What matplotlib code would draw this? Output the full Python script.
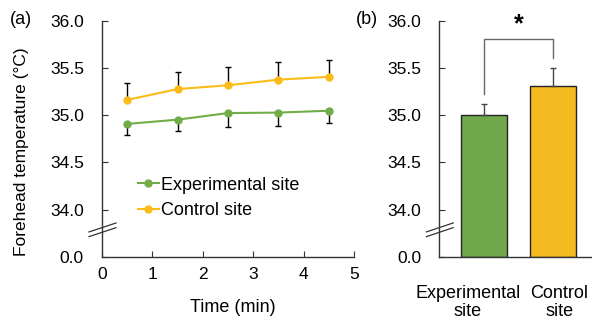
import matplotlib.pyplot as plt
from matplotlib.lines import Line2D
from matplotlib.transforms import blended_transform_factory

plt.rcParams['font.family'] = ['Liberation Sans', 'DejaVu Sans']

# time course data (left panel)
time = [0.5, 1.5, 2.5, 3.5, 4.5]
exp_mean = [34.91, 34.955, 35.025, 35.03, 35.05]
exp_sd = [0.12, 0.12, 0.145, 0.14, 0.13]
ctrl_mean = [35.165, 35.28, 35.32, 35.38, 35.41]
ctrl_sd = [0.18, 0.186, 0.19, 0.19, 0.18]

# averages (right panel)
sites = ['Experimental\nsite', 'Control\nsite']
site_mean = [35.0, 35.315]
site_sd = [0.125, 0.19]

# y axis is broken: the lowest slot shows 0.0
ybase = 33.5
yticks = [33.5, 34.0, 34.5, 35.0, 35.5, 36.0]
ylabels = ['0.0', '34.0', '34.5', '35.0', '35.5', '36.0']

green = '#70AD47'
gold = '#FBBC1A'
fs_tick = 12.5
fs = 13

fig = plt.figure(figsize=(5.92, 3.2), dpi=100)
ax1 = fig.add_axes([0.1723, 0.198, 0.4257, 0.7355])
ax2 = fig.add_axes([0.742, 0.198, 0.256, 0.7355])


def style(ax, width_px):
    ax.set_ylim(ybase, 36.0)
    ax.set_yticks(yticks)
    ax.set_yticklabels(ylabels)
    for s in ['top', 'right']:
        ax.spines[s].set_visible(False)
    for s in ['left', 'bottom']:
        ax.spines[s].set_color('#333333')
        ax.spines[s].set_linewidth(1.0)
    ax.tick_params(direction='in', length=4, color='#333333', labelsize=fs_tick)
    ax.tick_params(axis='y', pad=13)
    ax.tick_params(axis='x', pad=7.5)
    # break marks on the y axis
    for dy in (0, 0.02):
        ax.add_line(Line2D([-13 / width_px, 14 / width_px], [0.085 + dy, 0.123 + dy],
                           transform=ax.transAxes, color='#333333', lw=0.9, clip_on=False))


# left panel
ax1.errorbar(time, exp_mean, yerr=[exp_sd, [0] * 5], color=green, marker='o', ms=5,
             lw=1.5, ecolor='black', elinewidth=1, capsize=2.5, label='Experimental site')
ax1.errorbar(time, ctrl_mean, yerr=[[0] * 5, ctrl_sd], color=gold, marker='o', ms=5,
             lw=1.5, ecolor='black', elinewidth=1, capsize=2.5, label='Control site')
ax1.set_xlim(0, 5)
ax1.set_xticks(range(6))
style(ax1, 252)
fig.text(233 / 592, 1 - 308 / 320, 'Time (min)', fontsize=fs, ha='center', va='center')
fig.text(22 / 592, 1 - 152 / 320, 'Forehead temperature (°C)', fontsize=12.5,
         rotation=90, ha='center', va='center')
h, l = ax1.get_legend_handles_labels()
h = [x[0] for x in h]
ax1.legend(h, l, loc='center left', bbox_to_anchor=(0.143, 0.25), frameon=False,
           fontsize=fs, handlelength=1.15, handletextpad=0.1, labelspacing=0.45,
           borderpad=0, borderaxespad=0)

# right panel
xpos = [0, 1]
ax2.bar(xpos, [m - ybase for m in site_mean], bottom=ybase, width=0.67,
        color=['#70A84B', '#F5BA20'], edgecolor='#222222', lw=1)
ax2.errorbar(xpos, site_mean, yerr=[[0, 0], site_sd], fmt='none', ecolor='#444444',
             elinewidth=1, capsize=2)
ax2.set_xlim(-0.643, 1.543)
ax2.set_xticks(xpos)
ax2.set_xticklabels([])
style(ax2, 153)
ax2.tick_params(axis='x', length=0)
trans = blended_transform_factory(ax2.transData, fig.transFigure)
for xl, lab in zip([-0.23, 1.086], sites):
    ax2.text(xl, 1 - 302.5 / 320, lab, transform=trans, ha='center', va='center',
             multialignment='center', fontsize=fs, linespacing=1.15)
ax2.plot([0, 0, 1, 1], [35.23, 35.81, 35.81, 35.61], color='#666666', lw=1)
ax2.text(0.5, 35.84, '*', ha='center', va='bottom', fontsize=18, fontweight='bold')

fig.text(10 / 592, 1 - 20 / 320, '(a)', fontsize=fs, va='center')
fig.text(356 / 592, 1 - 20 / 320, '(b)', fontsize=fs, va='center')

fig.savefig('out.png', dpi=100)
